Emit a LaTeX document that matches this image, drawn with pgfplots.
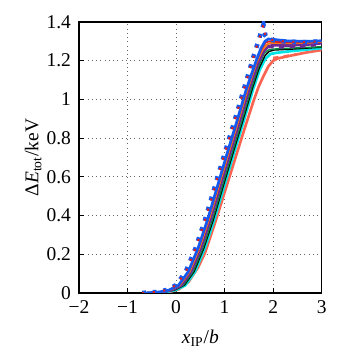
\documentclass[border=0pt]{standalone}
\usepackage{fontspec}
\setmainfont{Liberation Serif}
\newfontfamily\tickfont{Liberation Serif}
\usepackage{pgfplots}
\pgfplotsset{compat=1.18}
\definecolor{cblue}{RGB}{20,90,240}
\definecolor{cred}{RGB}{220,30,30}
\definecolor{corange}{RGB}{250,120,20}
\definecolor{cpurple}{RGB}{110,40,150}
\definecolor{cgreen}{RGB}{0,140,60}
\definecolor{ccyan}{RGB}{0,230,230}
\definecolor{csalmon}{RGB}{250,100,80}
\begin{document}
\begin{tikzpicture}
\begin{axis}[name=ax,
  scale only axis, width=137pt, height=153pt,
  xmin=-2, xmax=3, ymin=0, ymax=1.4,
  xtick={-2,-1,0,1,2,3}, ytick={0,0.2,0.4,0.6,0.8,1,1.2,1.4},
  yticklabels={{\tickfont 0},{\tickfont 0.2},{\tickfont 0.4},{\tickfont 0.6},{\tickfont 0.8},{\tickfont 1},{\tickfont 1.2},{\tickfont 1.4}},
  xticklabels={{\tickfont −2},{\tickfont −1},{\tickfont 0},{\tickfont 1},{\tickfont 2},{\tickfont 3}},
  tick align=inside, xtick pos=bottom, ytick pos=left,
  major tick length=3pt,
  axis line style={line width=0.9pt},
  tick style={line width=0.6pt,black},
  grid=major, grid style={black!60, dotted, line width=0.6pt},
  ticklabel style={font=\tickfont\fontsize{11}{12}\selectfont},
  xticklabel style={yshift=-1pt},
  yticklabel style={xshift=-1pt},
  xlabel={\textit{x}\textsubscript{IP}/\textit{b}},
  ylabel={Δ\textit{E}\textsubscript{tot}/keV},
  label style={font=\rmfamily\fontsize{11}{12}\selectfont},
  ylabel style={yshift=-4pt},
  xlabel style={yshift=-2pt},
  clip=true,
]
% salmon
\addplot[csalmon, line width=1.5pt] coordinates {(-0.45,0) (-0.15,0.005) (0.05,0.018) (0.25,0.055) (0.45,0.13) (0.6,0.21) (0.8,0.36) (1.0,0.52) (1.2,0.68) (1.4,0.84) (1.6,0.995) (1.7,1.065) (1.8,1.12) (1.9,1.17) (2.0,1.2) (2.1,1.212) (2.4,1.228) (2.7,1.243) (3.0,1.255)};
\addplot[csalmon, dashed, line width=1.2pt] coordinates {(2.0,1.215) (2.2,1.222) (2.5,1.235)};
% cyan
\addplot[ccyan, line width=1.5pt] coordinates {(-0.51,0) (-0.21,0.005) (-0.01,0.015) (0.19,0.04) (0.39,0.11) (0.59,0.23) (0.79,0.38) (0.99,0.55) (1.19,0.72) (1.39,0.885) (1.59,1.055) (1.72,1.15) (1.84,1.21) (1.95,1.235) (2.05,1.24) (2.4,1.25) (3.0,1.265)};
% black
\addplot[black, line width=0.8pt] coordinates {(-0.53,0) (-0.23,0.005) (-0.03,0.015) (0.17,0.04) (0.37,0.11) (0.57,0.23) (0.77,0.38) (0.97,0.55) (1.17,0.72) (1.37,0.885) (1.57,1.055) (1.71,1.16) (1.83,1.225) (1.92,1.248) (2.02,1.255) (2.4,1.26) (3.0,1.27)};
% green
\addplot[cgreen, line width=0.8pt] coordinates {(-0.55,0) (-0.25,0.005) (-0.05,0.015) (0.15,0.04) (0.35,0.11) (0.55,0.23) (0.75,0.38) (0.95,0.55) (1.15,0.72) (1.35,0.885) (1.55,1.055) (1.7,1.17) (1.81,1.235) (1.9,1.255) (2.0,1.26) (2.4,1.265) (3.0,1.272)};
% purple
\addplot[cpurple, line width=1.5pt] coordinates {(-0.59,0) (-0.29,0.005) (-0.09,0.015) (0.11,0.04) (0.31,0.11) (0.51,0.23) (0.71,0.38) (0.91,0.55) (1.11,0.72) (1.31,0.885) (1.51,1.055) (1.68,1.18) (1.8,1.245) (1.9,1.275) (2.0,1.28) (2.3,1.278) (2.7,1.283) (3.0,1.29)};
\addplot[cpurple, dashed, line width=1.8pt] coordinates {(1.9,1.272) (2.2,1.27) (2.6,1.275) (3.0,1.285)};
% orange
\addplot[corange, line width=1pt] coordinates {(-0.62,0) (-0.32,0.005) (-0.12,0.015) (0.08,0.04) (0.28,0.11) (0.48,0.23) (0.68,0.38) (0.88,0.55) (1.08,0.72) (1.28,0.885) (1.48,1.055) (1.66,1.19) (1.78,1.255) (1.88,1.285) (1.96,1.292) (2.3,1.29) (2.7,1.292) (3.0,1.297)};
% red
\addplot[cred, line width=1pt] coordinates {(-0.64,0) (-0.34,0.005) (-0.14,0.015) (0.06,0.04) (0.26,0.11) (0.46,0.23) (0.66,0.38) (0.86,0.55) (1.06,0.72) (1.26,0.885) (1.46,1.055) (1.66,1.2) (1.76,1.26) (1.85,1.295) (1.93,1.30) (2.2,1.295) (2.6,1.295) (3.0,1.30)};
% blue
\addplot[cblue, line width=1.5pt] coordinates {(-0.65,0) (-0.35,0.005) (-0.15,0.015) (0.05,0.04) (0.25,0.11) (0.45,0.23) (0.65,0.38) (0.85,0.55) (1.05,0.72) (1.25,0.885) (1.45,1.055) (1.65,1.2) (1.75,1.265) (1.83,1.30) (1.9,1.312) (2.0,1.31) (2.3,1.302) (2.7,1.30) (3.0,1.303)};
% dotted thick (blue + red dashes)
\addplot[cblue, line width=2.6pt, dash pattern=on 2.2pt off 3.8pt] coordinates {(-0.7,0) (-0.4,0.005) (-0.2,0.015) (0,0.04) (0.2,0.11) (0.4,0.23) (0.6,0.38) (0.8,0.55) (1.0,0.72) (1.2,0.885) (1.4,1.055) (1.6,1.225) (1.8,1.385) (1.84,1.33) (1.9,1.31) (2.2,1.30) (2.6,1.295) (3,1.30)};
\addplot[cred, line width=1.2pt, dash pattern=on 1.2pt off 4.8pt] coordinates {(-0.7,0) (-0.4,0.005) (-0.2,0.015) (0,0.04) (0.2,0.11) (0.4,0.23) (0.6,0.38) (0.8,0.55) (1.0,0.72) (1.2,0.885) (1.4,1.055) (1.6,1.225) (1.8,1.385) (1.84,1.33) (1.9,1.31) (2.2,1.30) (2.6,1.295) (3,1.30)};
\end{axis}
\path ([xshift=-44.6pt,yshift=-35pt]ax.south west) rectangle ([xshift=18pt,yshift=12.4pt]ax.north east);
\end{tikzpicture}
\end{document}
